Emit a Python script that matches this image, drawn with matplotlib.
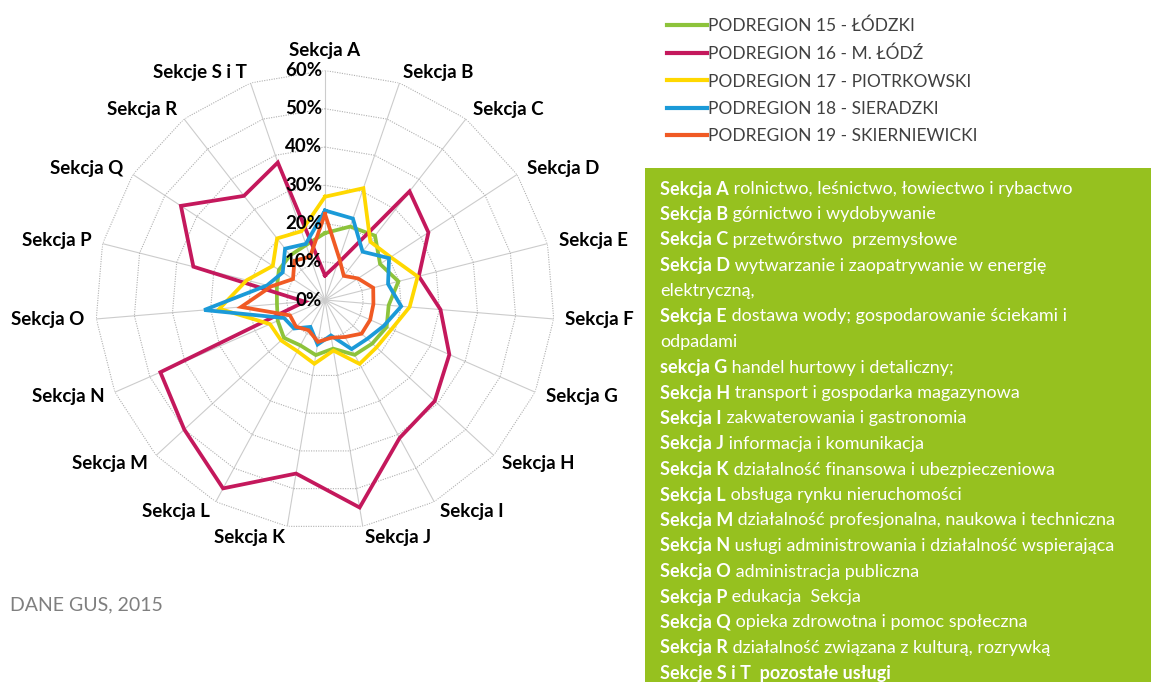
import numpy as np
import matplotlib
matplotlib.use('Agg')
import matplotlib.pyplot as plt
from matplotlib.patches import Rectangle
from matplotlib.text import Annotation
from matplotlib.lines import Line2D

# sections on the radar (clockwise from top)
categories = ['Sekcja A', 'Sekcja B', 'Sekcja C', 'Sekcja D', 'Sekcja E', 'Sekcja F',
              'Sekcja G', 'Sekcja H', 'Sekcja I', 'Sekcja J', 'Sekcja K', 'Sekcja L',
              'Sekcja M', 'Sekcja N', 'Sekcja O', 'Sekcja P', 'Sekcja Q', 'Sekcja R',
              'Sekcje S i T']

# values in %
lodzki = [17.5, 20.3, 21.3, 17.2, 19.8, 16.7, 17.6, 16.8, 16.3, 12.9,
          14.6, 13.5, 14.6, 13.5, 12.6, 13.0, 14.4, 14.8, 15.2]
m_lodz = [6.4, 10.0, 36.0, 32.3, 25.3, 30.3, 35.5, 39.0, 41.0, 55.0,
          46.0, 56.0, 50.0, 47.0, 5.3, 35.5, 45.0, 34.5, 38.0]
piotrkowski = [27.0, 30.9, 19.3, 20.5, 25.0, 22.2, 19.0, 18.3, 19.0, 13.4,
               16.9, 15.2, 15.6, 15.7, 27.7, 21.1, 16.3, 20.4, 19.0]
sieradzki = [23.4, 22.5, 16.0, 20.0, 17.0, 20.0, 16.8, 15.0, 14.6, 9.4,
             11.8, 8.0, 11.0, 11.7, 31.7, 15.6, 13.2, 17.0, 15.5]
skierniewicki = [22.5, 11.5, 8.0, 10.3, 13.0, 12.7, 12.9, 13.0, 11.0, 10.0,
                 11.1, 9.0, 10.3, 10.0, 22.0, 14.5, 10.0, 13.0, 12.0]

series_names = ['PODREGION 15 - ŁÓDZKI', 'PODREGION 16 - M. ŁÓDŹ',
                'PODREGION 17 - PIOTRKOWSKI', 'PODREGION 18 - SIERADZKI',
                'PODREGION 19 - SKIERNIEWICKI']
series_values = [lodzki, m_lodz, piotrkowski, sieradzki, skierniewicki]
series_colors = ['#8dc33b', '#c4185c', '#ffd800', '#1b9ad8', '#f05a24']

r_ticks = [0, 10, 20, 30, 40, 50, 60]

desc_lines = [
    ('Sekcja A', 'rolnictwo, leśnictwo, łowiectwo i rybactwo'),
    ('Sekcja B', 'górnictwo i wydobywanie'),
    ('Sekcja C', 'przetwórstwo  przemysłowe'),
    ('Sekcja D', 'wytwarzanie i zaopatrywanie w energię'),
    ('', 'elektryczną,'),
    ('Sekcja E', 'dostawa wody; gospodarowanie ściekami i'),
    ('', 'odpadami'),
    ('sekcja G', 'handel hurtowy i detaliczny;'),
    ('Sekcja H', 'transport i gospodarka magazynowa'),
    ('Sekcja I', 'zakwaterowania i gastronomia'),
    ('Sekcja J', 'informacja i komunikacja'),
    ('Sekcja K', 'działalność finansowa i ubezpieczeniowa'),
    ('Sekcja L', 'obsługa rynku nieruchomości'),
    ('Sekcja M', 'działalność profesjonalna, naukowa i techniczna'),
    ('Sekcja N', 'usługi administrowania i działalność wspierająca'),
    ('Sekcja O', 'administracja publiczna'),
    ('Sekcja P', 'edukacja  Sekcja'),
    ('Sekcja Q', 'opieka zdrowotna i pomoc społeczna'),
    ('Sekcja R', 'działalność związana z kulturą, rozrywką'),
    ('Sekcje S i T  pozostałe usługi', ''),
]

W, H = 1151, 682
plt.rcParams['font.family'] = ['Lato', 'DejaVu Sans']
fig = plt.figure(figsize=(W / 100, H / 100), dpi=100)

# green description box
fig.patches.append(Rectangle((645 / W, 0), (W - 645) / W, (H - 168) / H,
                             transform=fig.transFigure, facecolor='#96c11f',
                             edgecolor='none', zorder=0))

# radar
cx, cy, rad = 325, 300, 229.5
ax = fig.add_axes([(cx - rad) / W, (H - cy - rad) / H, 2 * rad / W, 2 * rad / H],
                  projection='polar')
ax.set_theta_zero_location('N')
ax.set_theta_direction(-1)
ax.set_ylim(0, 0.6)
ax.grid(False)
ax.set_xticks([])
ax.set_yticks([])
ax.spines['polar'].set_visible(False)
ax.patch.set_alpha(0)

n = len(categories)
angles = np.arange(n) * 2 * np.pi / n
closed = np.append(angles, angles[0])

for a in angles:
    ax.plot([a, a], [0, 0.6], color='#cccccc', lw=0.8, zorder=1)
for t in r_ticks[1:]:
    ax.plot(closed, np.full(n + 1, t / 100), color='#b0b0b0', lw=0.8,
            ls=(0, (1, 1.2)), zorder=1)

for vals, col in zip(series_values, series_colors):
    v = np.array(vals) / 100
    ax.plot(closed, np.append(v, v[0]), color=col, lw=2.7, zorder=3,
            solid_joinstyle='miter')

for t in r_ticks:
    ax.annotate('%d%%' % t, xy=(0, t / 100), xytext=(-2, 0),
                textcoords='offset points', ha='right', va='center',
                fontsize=13.5, fontweight='bold', color='black', zorder=4)

for a, lab in zip(angles, categories):
    s, c = np.sin(a), np.cos(a)
    if abs(s) < 0.1:
        ha = 'center'
    elif s > 0:
        ha = 'left'
    else:
        ha = 'right'
    va = 'bottom' if c > 0.99 else 'center'
    ax.text(a, 0.63, lab, ha=ha, va=va, fontsize=13.5, fontweight='bold',
            color='black')

# legend
handles = [Line2D([], [], color=c, lw=3) for c in series_colors]
fig.legend(handles, series_names, loc='upper left',
           bbox_to_anchor=(651 / W, 1 - 2 / H), frameon=False, fontsize=12.5,
           handlelength=2.3, handletextpad=0.1, labelspacing=0.66,
           labelcolor='#404040')

# description lines
y0 = 189
step = 25.5
fs = 13
for i, (b, rest) in enumerate(desc_lines):
    y = 1 - (y0 + i * step) / H
    if b:
        t = fig.text(660 / W, y, b, fontsize=fs, fontweight='bold',
                     color='white', va='center')
        if rest:
            fig.add_artist(Annotation(' ' + rest, xy=(1, 0.5), xycoords=t,
                                      va='center', ha='left', fontsize=fs,
                                      color='white'))
    else:
        fig.text(660 / W, y, rest, fontsize=fs, color='white', va='center')

fig.text(10 / W, 1 - 605 / H, 'DANE GUS, 2015', fontsize=14, color='#7f7f7f',
         va='center')

fig.savefig('out.png', dpi=100)
